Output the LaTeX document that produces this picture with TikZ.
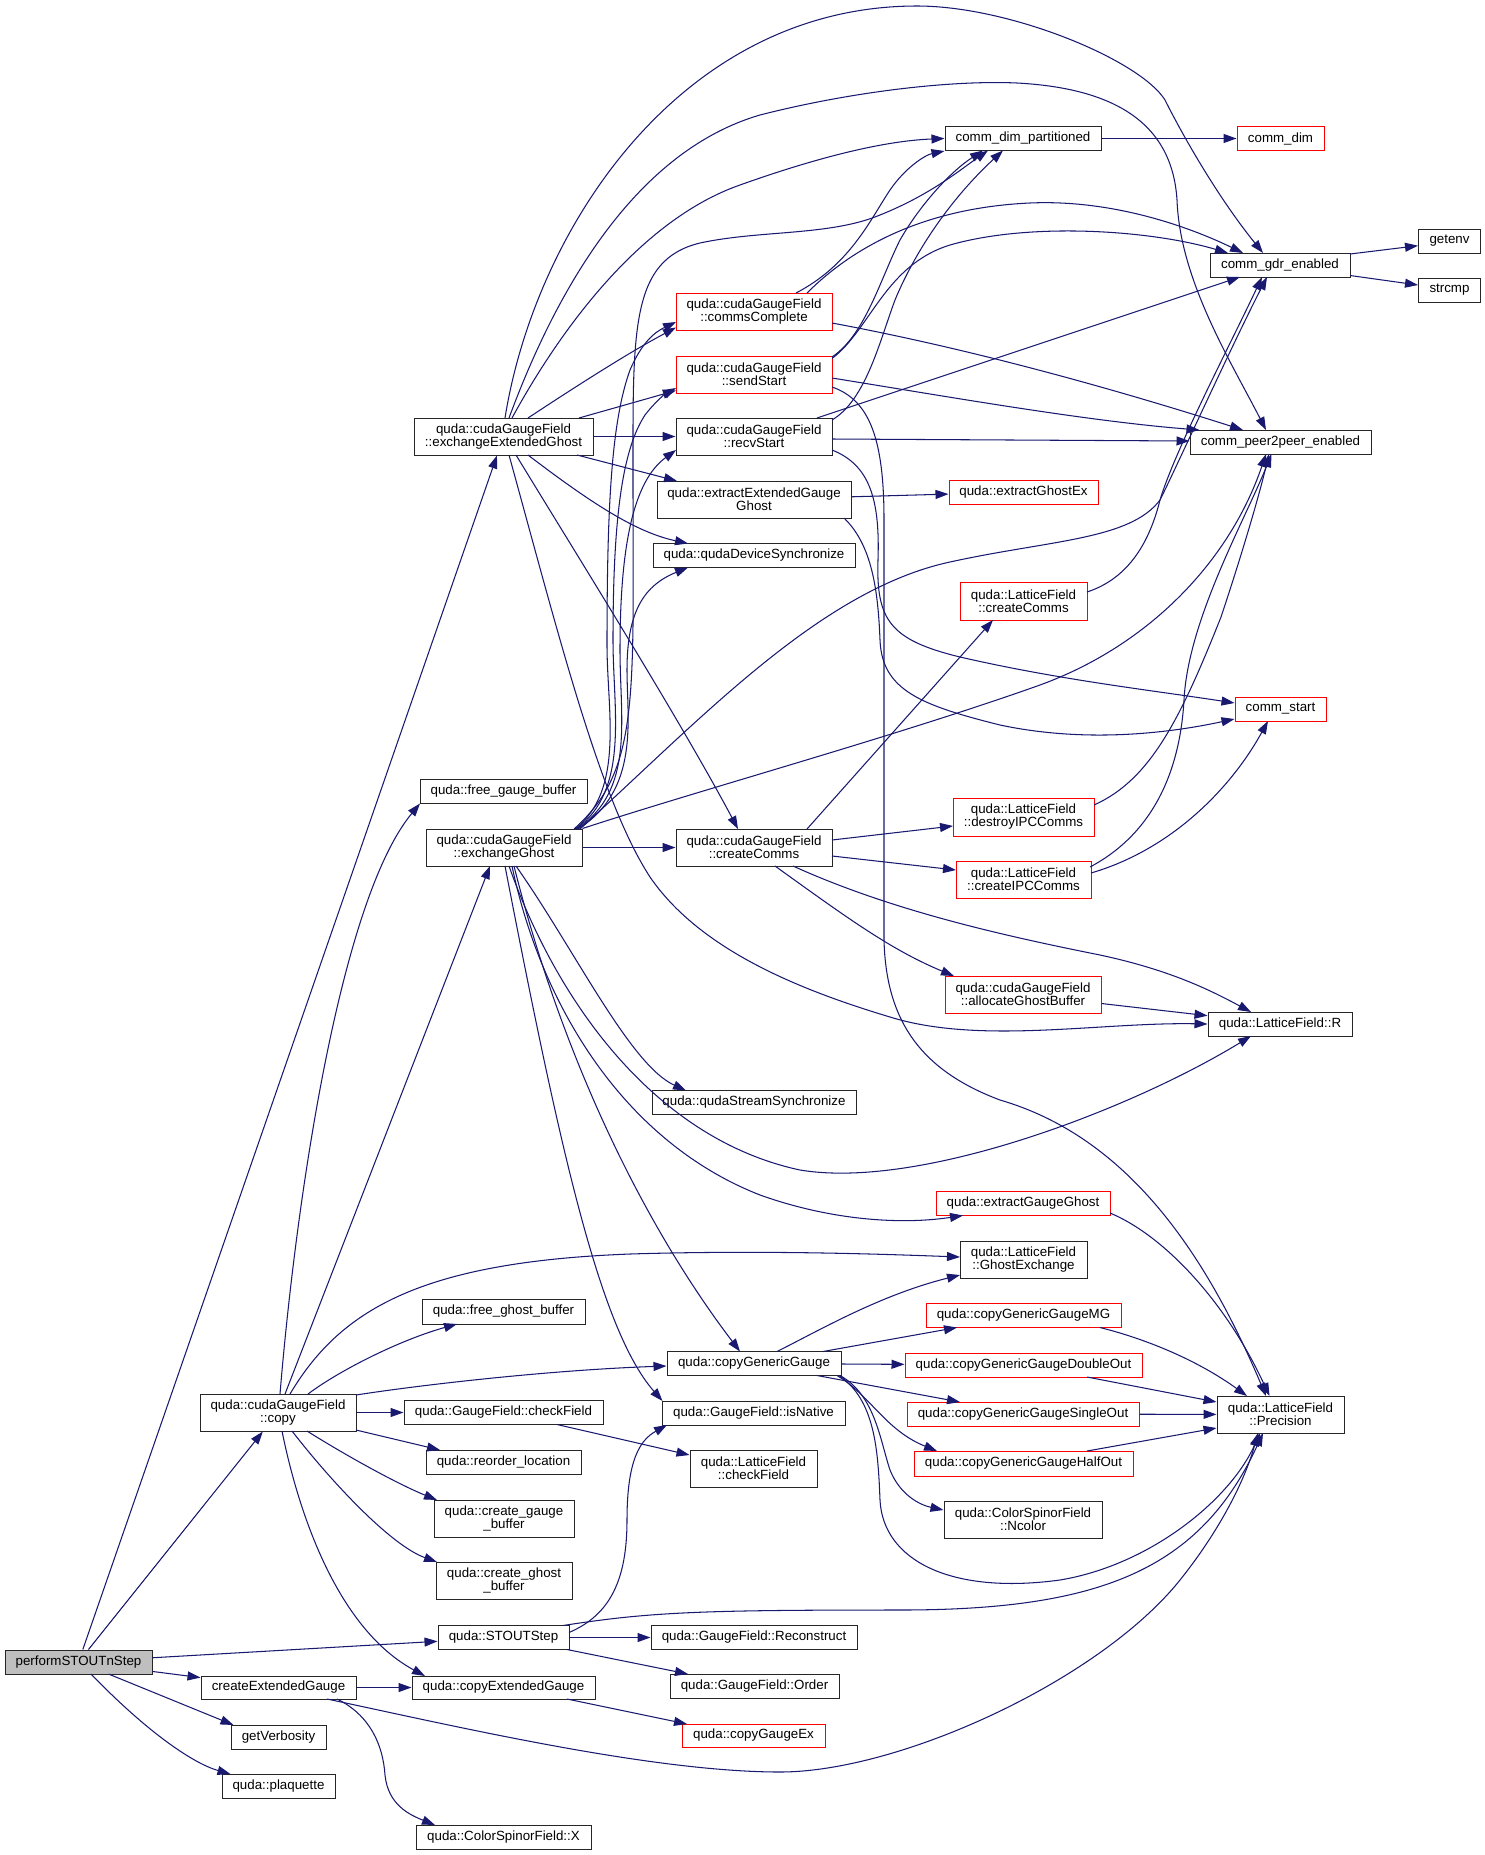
\documentclass[tikz,border=0pt]{standalone}
\usepackage{fontspec}
\setmainfont{Liberation Sans}
\usetikzlibrary{arrows.meta}
\definecolor{edgec}{HTML}{191970}
\definecolor{rootfill}{HTML}{BFBFBF}
\begin{document}
\begin{tikzpicture}[x=1pt,y=-1pt,
  nd/.style={draw=black!85, line width=1pt, inner sep=0pt, align=center,
    font=\fontsize{13.33}{13}\selectfont},
  rd/.style={nd, draw=red},
  e/.style={draw=edgec, line width=1.05pt, -{Triangle[length=13pt,width=9pt]}, fill=none}]
\fill[white] (0,0) rectangle (1485,1855);
\useasboundingbox (0,0) rectangle (1485,1855);
% nodes
\node[nd,fill=rootfill,minimum width=147,minimum height=24] (root) at (78.5,1662) {performSTOUTnStep};
\node[nd,minimum width=179,minimum height=37] (eeg) at (503.5,436.5) {quda::cudaGaugeField\\::exchangeExtendedGhost};
\node[nd,minimum width=156,minimum height=24] (cdp) at (1023,138.5) {comm\_dim\_partitioned};
\node[rd,minimum width=87,minimum height=24] (cdim) at (1280.5,138.5) {comm\_dim};
\node[nd,minimum width=140,minimum height=24] (gdr) at (1280,265) {comm\_gdr\_enabled};
\node[nd,minimum width=62,minimum height=24] (getenv) at (1449.5,241) {getenv};
\node[nd,minimum width=62,minimum height=24] (strcmp) at (1449.5,290) {strcmp};
\node[nd,minimum width=181,minimum height=24] (p2p) at (1280.5,442) {comm\_peer2peer\_enabled};
\node[rd,minimum width=156,minimum height=37] (cc) at (754,311.5) {quda::cudaGaugeField\\::commsComplete};
\node[rd,minimum width=156,minimum height=37] (ss) at (754,374.5) {quda::cudaGaugeField\\::sendStart};
\node[nd,minimum width=156,minimum height=37] (rs) at (754,436.5) {quda::cudaGaugeField\\::recvStart};
\node[nd,minimum width=194,minimum height=37] (eegg) at (754,499.5) {quda::extractExtendedGauge\\Ghost};
\node[rd,minimum width=149,minimum height=24] (ege) at (1023.5,492) {quda::extractGhostEx};
\node[nd,minimum width=202,minimum height=24] (qds) at (754,555.5) {quda::qudaDeviceSynchronize};
\node[rd,minimum width=127,minimum height=38] (lcc) at (1023.5,601) {quda::LatticeField\\::createComms};
\node[rd,minimum width=91,minimum height=24] (cstart) at (1280.5,709) {comm\_start};
\node[nd,minimum width=167,minimum height=24] (fgb) at (503.5,791.5) {quda::free\_gauge\_buffer};
\node[nd,minimum width=156,minimum height=37] (eg) at (504,847.5) {quda::cudaGaugeField\\::exchangeGhost};
\node[nd,minimum width=156,minimum height=37] (ccomms) at (754,847.5) {quda::cudaGaugeField\\::createComms};
\node[rd,minimum width=141,minimum height=38] (dipc) at (1023.5,817) {quda::LatticeField\\::destroyIPCComms};
\node[rd,minimum width=135,minimum height=37] (cipc) at (1023.5,879.5) {quda::LatticeField\\::createIPCComms};
\node[rd,minimum width=156,minimum height=37] (agb) at (1023,994.5) {quda::cudaGaugeField\\::allocateGhostBuffer};
\node[nd,minimum width=144,minimum height=24] (lfr) at (1280,1024) {quda::LatticeField::R};
\node[nd,minimum width=204,minimum height=24] (qss) at (754,1102.5) {quda::qudaStreamSynchronize};
\node[rd,minimum width=174,minimum height=24] (egg) at (1023,1203.5) {quda::extractGaugeGhost};
\node[nd,minimum width=127,minimum height=37] (ghx) at (1023.5,1259.5) {quda::LatticeField\\::GhostExchange};
\node[rd,minimum width=195,minimum height=24] (cggmg) at (1023.5,1315.5) {quda::copyGenericGaugeMG};
\node[nd,minimum width=174,minimum height=24] (cgg) at (754,1363.5) {quda::copyGenericGauge};
\node[rd,minimum width=237,minimum height=24] (cggd) at (1023.5,1365) {quda::copyGenericGaugeDoubleOut};
\node[rd,minimum width=232,minimum height=24] (cggs) at (1023,1414) {quda::copyGenericGaugeSingleOut};
\node[rd,minimum width=219,minimum height=25] (cggh) at (1023.5,1463.5) {quda::copyGenericGaugeHalfOut};
\node[nd,minimum width=158,minimum height=37] (ncolor) at (1023,1519.5) {quda::ColorSpinorField\\::Ncolor};
\node[nd,minimum width=127,minimum height=37] (prec) at (1280.5,1414.5) {quda::LatticeField\\::Precision};
\node[nd,minimum width=183,minimum height=24] (isn) at (753.5,1413) {quda::GaugeField::isNative};
\node[nd,minimum width=127,minimum height=37] (lcf) at (753.5,1468.5) {quda::LatticeField\\::checkField};
\node[nd,minimum width=156,minimum height=37] (copy) at (278,1412.5) {quda::cudaGaugeField\\::copy};
\node[nd,minimum width=163,minimum height=25] (fgh) at (503.5,1311.5) {quda::free\_ghost\_buffer};
\node[nd,minimum width=199,minimum height=24] (gcf) at (503.5,1412.5) {quda::GaugeField::checkField};
\node[nd,minimum width=155,minimum height=24] (rl) at (503.5,1462) {quda::reorder\_location};
\node[nd,minimum width=140,minimum height=37] (cgb) at (504,1518.5) {quda::create\_gauge\\\_buffer};
\node[nd,minimum width=136,minimum height=37] (chb) at (504,1580.5) {quda::create\_ghost\\\_buffer};
\node[nd,minimum width=131,minimum height=24] (stout) at (503.5,1637.5) {quda::STOUTStep};
\node[nd,minimum width=155,minimum height=23] (ceg) at (278.5,1687.5) {createExtendedGauge};
\node[nd,minimum width=95,minimum height=24] (gv) at (278.5,1737) {getVerbosity};
\node[nd,minimum width=113,minimum height=24] (plaq) at (278.5,1786) {quda::plaquette};
\node[nd,minimum width=183,minimum height=23] (ceg2) at (503.5,1687.5) {quda::copyExtendedGauge};
\node[nd,minimum width=206,minimum height=24] (recon) at (754,1637.5) {quda::GaugeField::Reconstruct};
\node[nd,minimum width=169,minimum height=24] (order) at (754.5,1686) {quda::GaugeField::Order};
\node[rd,minimum width=143,minimum height=23] (cgex) at (753.5,1735.5) {quda::copyGaugeEx};
\node[nd,minimum width=175,minimum height=24] (csx) at (503.5,1837) {quda::ColorSpinorField::X};
% root
\draw[e] (root) -- (eeg);
\draw[e] (root) -- (copy);
\draw[e] (root) -- (stout);
\draw[e] (root) -- (ceg);
\draw[e] ([shift={(30,12)}]root.center) -- ([shift={(-45,-12)}]gv.center);
\draw[e] ([shift={(12.5,12)}]root.center) .. controls (150,1735) and (195,1764) .. ([shift={(-48,-12)}]plaq.center);
% exchangeExtendedGhost
\draw[e] ([shift={(1.5,-18.5)}]eeg.center) .. controls (535,230) and (680,6) .. (917,6) .. controls (1010,6) and (1140,60) .. (1165,100) .. controls (1185,140) and (1220,200) .. ([shift={(-17,-12)}]gdr.center);
\draw[e] ([shift={(5.5,-18.5)}]eeg.center) .. controls (560,280) and (640,150) .. (760,115) .. controls (850,92) and (950,80) .. (1017,83) .. controls (1110,88) and (1172,120) .. (1177,200) .. controls (1180,280) and (1230,360) .. ([shift={(-14.5,-12)}]p2p.center);
\draw[e] ([shift={(8.5,-18.5)}]eeg.center) .. controls (560,330) and (640,220) .. (740,185) .. controls (810,160) and (880,141) .. (cdp.west);
\draw[e] ([shift={(24.5,-18.5)}]eeg.center) .. controls (575,387) and (628,353) .. ([shift={(-78,16)}]cc.center);
\draw[e] ([shift={(75.5,-18.5)}]eeg.center) -- ([shift={(-78,16)}]ss.center);
\draw[e] (eeg) -- (rs);
\draw[e] ([shift={(73.5,18.5)}]eeg.center) -- ([shift={(-77,-18.5)}]eegg.center);
\draw[e] ([shift={(24.5,18.5)}]eeg.center) .. controls (600,510) and (640,533) .. ([shift={(-66,-12)}]qds.center);
\draw[e] ([shift={(12.5,18.5)}]eeg.center) .. controls (580,560) and (680,720) .. ([shift={(-16,-18.5)}]ccomms.center);
\draw[e] ([shift={(5.5,18.5)}]eeg.center) .. controls (560,640) and (600,800) .. (650,877) .. controls (700,950) and (800,990) .. (890,1017) .. controls (980,1045) and (1100,1022) .. (lfr.west);
% commsComplete
\draw[e] ([shift={(42,-18.5)}]cc.center) .. controls (850,265) and (870,220) .. (890,190) .. controls (905,168) and (925,155) .. (cdp.south west);
\draw[e] ([shift={(53,-18.5)}]cc.center) .. controls (850,250) and (920,208) .. (1030,203) .. controls (1120,199) and (1200,232) .. ([shift={(-37,-12)}]gdr.center);
\draw[e] ([shift={(78,11.5)}]cc.center) .. controls (950,345) and (1086,380) .. ([shift={(-37.5,-12)}]p2p.center);
% sendStart
\draw[e] ([shift={(78,-17.5)}]ss.center) .. controls (865,335) and (880,280) .. (900,240) .. controls (920,205) and (950,172) .. ([shift={(-40,12)}]cdp.center);
\draw[e] ([shift={(78,-16)}]ss.center) .. controls (870,330) and (885,265) .. (950,245) .. controls (1030,222) and (1150,230) .. ([shift={(-52,-12)}]gdr.center);
\draw[e] ([shift={(78,3.5)}]ss.center) .. controls (950,397) and (1086,421) .. ([shift={(-81,-12)}]p2p.center);
\draw[e] ([shift={(78,12.5)}]ss.center) .. controls (870,400) and (884,440) .. (884,520) -- (884,940) .. controls (886,1020) and (920,1070) .. (1000,1100) .. controls (1120,1135) and (1200,1240) .. ([shift={(-14.5,-18.5)}]prec.center);
% recvStart
\draw[e] ([shift={(78,-16.5)}]rs.center) .. controls (866,400) and (880,340) .. (895,300) .. controls (920,240) and (960,190) .. ([shift={(-20,12)}]cdp.center);
\draw[e] ([shift={(63,-18.5)}]rs.center) -- ([shift={(-40,12)}]gdr.center);
\draw[e] ([shift={(78,2.5)}]rs.center) -- ([shift={(0,-1)}]p2p.west);
\draw[e] ([shift={(78,13.5)}]rs.center) .. controls (870,465) and (880,500) .. (878,560) .. controls (876,620) and (890,640) .. (960,657) .. controls (1060,680) and (1150,690) .. ([shift={(0,-6)}]cstart.west);
% extractExtendedGaugeGhost
\draw[e] (eegg) -- (ege);
\draw[e] ([shift={(90,18.5)}]eegg.center) .. controls (872,545) and (878,590) .. (880,640) .. controls (882,690) and (920,705) .. (1000,725) .. controls (1080,742) and (1160,735) .. ([shift={(0,10)}]cstart.west);
% LatticeField::createComms
\draw[e] ([shift={(63.5,-9)}]lcc.center) .. controls (1130,578) and (1150,540) .. (1160,500) .. controls (1175,450) and (1230,345) .. ([shift={(-18,12)}]gdr.center);
% exchangeGhost
\draw[e] (eg) -- (ccomms);
\draw[e] ([shift={(71,-18.5)}]eg.center) .. controls (625,790) and (607,710) .. (607,645) .. controls (607,500) and (612,420) .. (630,370) .. controls (642,342) and (655,332) .. ([shift={(-78,10.5)}]cc.center);
\draw[e] ([shift={(72,-18.5)}]eg.center) .. controls (630,790) and (613,710) .. (613,640) .. controls (613,520) and (622,450) .. (645,415) .. controls (655,402) and (665,394) .. ([shift={(-78,13.5)}]ss.center);
\draw[e] ([shift={(73,-18.5)}]eg.center) .. controls (635,790) and (620,720) .. (620,650) .. controls (620,540) and (635,480) .. ([shift={(-78,13.5)}]rs.center);
\draw[e] ([shift={(74,-18.5)}]eg.center) .. controls (640,790) and (627,720) .. (627,670) .. controls (627,610) and (645,585) .. ([shift={(-66,12)}]qds.center);
\draw[e] ([shift={(70,-18.5)}]eg.center) .. controls (640,770) and (633,700) .. (633,479) .. controls (633,330) and (630,260) .. (700,243) .. controls (760,230) and (830,236) .. (880,215) .. controls (930,195) and (960,170) .. ([shift={(-35,12)}]cdp.center);
\draw[e] ([shift={(76,-18.5)}]eg.center) .. controls (700,720) and (820,590) .. (950,562) .. controls (1050,540) and (1130,540) .. (1160,500) .. controls (1175,470) and (1232,345) .. ([shift={(-13,12)}]gdr.center);
\draw[e] (eg.north east) .. controls (700,790) and (900,735) .. (1040,685) .. controls (1150,645) and (1230,560) .. ([shift={(-14.5,12)}]p2p.center);
\draw[e] ([shift={(5,18.5)}]eg.center) .. controls (560,1010) and (660,1140) .. (800,1170) .. controls (920,1190) and (1130,1110) .. ([shift={(-29,12)}]lfr.center);
\draw[e] ([shift={(12,18.5)}]eg.center) .. controls (575,950) and (630,1065) .. ([shift={(-68,-12)}]qss.center);
\draw[e] ([shift={(8,18.5)}]eg.center) .. controls (540,1000) and (620,1140) .. (760,1195) .. controls (830,1220) and (900,1225) .. ([shift={(-60,12)}]egg.center);
\draw[e] ([shift={(10,18.5)}]eg.center) .. controls (560,1050) and (640,1220) .. ([shift={(-14,-12)}]cgg.center);
\draw[e] ([shift={(1,18.5)}]eg.center) .. controls (560,1150) and (600,1330) .. ([shift={(-91,-12)}]isn.center);
% cudaGaugeField::createComms
\draw[e] ([shift={(53,-18.5)}]ccomms.center) -- ([shift={(-30.5,19)}]lcc.center);
\draw[e] ([shift={(78,-7.5)}]ccomms.center) -- ([shift={(-70.5,9)}]dipc.center);
\draw[e] ([shift={(78,8.5)}]ccomms.center) -- ([shift={(-67.5,-9.5)}]cipc.center);
\draw[e] ([shift={(21,18.5)}]ccomms.center) .. controls (846,917) and (891,950) .. ([shift={(-69,-18.5)}]agb.center);
\draw[e] ([shift={(39,18.5)}]ccomms.center) .. controls (890,910) and (1000,935) .. (1100,955) .. controls (1170,970) and (1210,990) .. ([shift={(-29,-12)}]lfr.center);
% IPC comms
\draw[e] ([shift={(70.5,-12)}]dipc.center) .. controls (1150,780) and (1180,720) .. (1221,617) .. controls (1240,560) and (1258,500) .. ([shift={(-11.5,12)}]p2p.center);
\draw[e] ([shift={(66.5,-12.5)}]cipc.center) .. controls (1154,833) and (1180,770) .. (1184,700) .. controls (1188,620) and (1245,520) .. ([shift={(-9,12)}]p2p.center);
\draw[e] ([shift={(67.5,-6.5)}]cipc.center) .. controls (1170,850) and (1230,790) .. ([shift={(-12.5,12)}]cstart.center);
\draw[e] (agb) -- (lfr);
% Precision callers
\draw[e] ([shift={(87,9.5)}]egg.center) .. controls (1163,1235) and (1225,1300) .. ([shift={(-11,-18.5)}]prec.center);
\draw[e] ([shift={(76.5,12)}]cggmg.center) .. controls (1150,1340) and (1200,1362) .. ([shift={(-33.5,-18.5)}]prec.center);
\draw[e] ([shift={(63.5,12)}]cggd.center) -- ([shift={(0,-12.5)}]prec.west);
\draw[e] (cggs) -- (prec);
\draw[e] ([shift={(63.5,-12.5)}]cggh.center) -- ([shift={(0,13.5)}]prec.west);
% copyGenericGauge
\draw[e] ([shift={(23,-12)}]cgg.center) .. controls (820,1330) and (880,1295) .. ([shift={(-63.5,15.5)}]ghx.center);
\draw[e] ([shift={(69,-12)}]cgg.center) -- ([shift={(-66.5,12)}]cggmg.center);
\draw[e] (cgg) -- (cggd);
\draw[e] ([shift={(63,12)}]cgg.center) -- ([shift={(-63,-12)}]cggs.center);
\draw[e] ([shift={(83,12)}]cgg.center) .. controls (870,1395) and (885,1430) .. ([shift={(-86.5,-12.5)}]cggh.center);
\draw[e] ([shift={(86,12)}]cgg.center) .. controls (875,1395) and (880,1440) .. (890,1470) .. controls (900,1495) and (920,1505) .. ([shift={(0,-9.5)}]ncolor.west);
\draw[e] ([shift={(85,12)}]cgg.center) .. controls (875,1400) and (878,1450) .. (880,1500) .. controls (883,1560) and (950,1595) .. (1060,1580) .. controls (1150,1565) and (1230,1500) .. ([shift={(-20.5,18.5)}]prec.center);
% cudaGaugeField::copy
\draw[e] ([shift={(7,-18.5)}]copy.center) -- ([shift={(-14,18.5)}]eg.center);
\draw[e] ([shift={(2,-18.5)}]copy.center) .. controls (296,1200) and (340,900) .. ([shift={(-83.5,12)}]fgb.center);
\draw[e] ([shift={(12,-18.5)}]copy.center) .. controls (340,1310) and (420,1262) .. (630,1254) .. controls (760,1250) and (880,1254) .. ([shift={(-63.5,-2.5)}]ghx.center);
\draw[e] ([shift={(30,-18.5)}]copy.center) .. controls (340,1370) and (400,1340) .. ([shift={(-46.5,12.5)}]fgh.center);
\draw[e] ([shift={(78,-17.5)}]copy.center) .. controls (420,1385) and (550,1370) .. ([shift={(0,2.5)}]cgg.west);
\draw[e] (copy) -- (gcf);
\draw[e] ([shift={(78,17.5)}]copy.center) -- ([shift={(-63.5,-12)}]rl.center);
\draw[e] ([shift={(29,18.5)}]copy.center) .. controls (350,1458) and (400,1485) .. ([shift={(-67,-18.5)}]cgb.center);
\draw[e] ([shift={(14,18.5)}]copy.center) .. controls (330,1480) and (390,1545) .. ([shift={(-67,-18.5)}]chb.center);
\draw[e] ([shift={(4,18.5)}]copy.center) .. controls (300,1520) and (340,1630) .. ([shift={(-78.5,-11.5)}]ceg2.center);
\draw[e] ([shift={(53.5,12)}]gcf.center) -- ([shift={(0,-13.5)}]lcf.west);
% STOUTStep
\draw[e] ([shift={(65.5,-5)}]stout.center) .. controls (610,1615) and (627,1580) .. (627,1520) .. controls (627,1460) and (640,1440) .. ([shift={(-86.5,12)}]isn.center);
\draw[e] ([shift={(59.5,-12)}]stout.center) .. controls (650,1612) and (700,1610) .. (900,1610) .. controls (1100,1610) and (1200,1570) .. ([shift={(-17.5,18.5)}]prec.center);
\draw[e] (stout) -- (recon);
\draw[e] ([shift={(63.5,12)}]stout.center) -- ([shift={(-66.5,-12)}]order.center);
% createExtendedGauge
\draw[e] (ceg) -- (ceg2);
\draw[e] ([shift={(58.5,11.5)}]ceg.center) .. controls (370,1715) and (383,1745) .. (385,1775) .. controls (388,1805) and (410,1815) .. ([shift={(-68.5,-12)}]csx.center);
\draw[e] ([shift={(48.5,11.5)}]ceg.center) .. controls (450,1725) and (650,1772) .. (780,1772) .. controls (900,1772) and (1100,1680) .. (1180,1580) .. controls (1220,1530) and (1245,1480) .. ([shift={(-22.5,18.5)}]prec.center);
\draw[e] ([shift={(63.5,11.5)}]ceg2.center) -- ([shift={(-66.5,-11.5)}]cgex.center);
% comm
\draw[e] (cdp) -- (cdim);
\draw[e] ([shift={(70,-11)}]gdr.center) -- ([shift={(-31.5,4.7)}]getenv.center);
\draw[e] ([shift={(70,10.5)}]gdr.center) -- ([shift={(-31.5,-5)}]strcmp.center);
\end{tikzpicture}
\end{document}
